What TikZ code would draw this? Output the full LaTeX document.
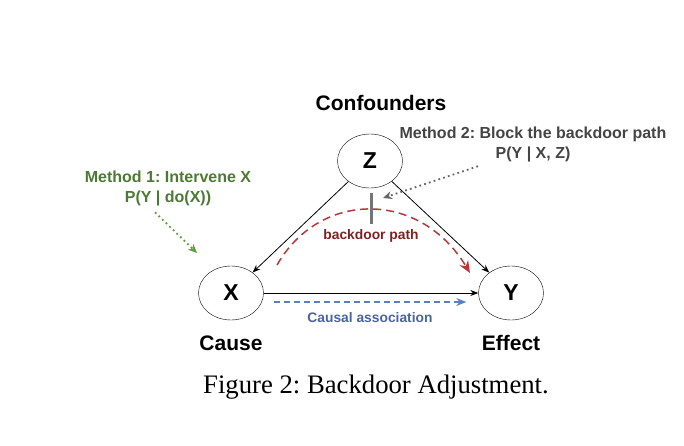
\documentclass[tikz,border=0pt]{standalone}
\usepackage{fontspec}
\setmainfont{Liberation Sans}
\newfontfamily\capfont{Liberation Serif}
\usetikzlibrary{arrows.meta,positioning,calc,shapes.geometric}
\definecolor{mgreen}{HTML}{4C7A34}
\definecolor{agreen}{HTML}{5E9E3E}
\definecolor{bdred}{HTML}{B23A3A}
\definecolor{bdtext}{HTML}{7B2323}
\definecolor{cablue}{HTML}{5C7FC0}
\definecolor{catext}{HTML}{4A64A0}
\definecolor{mgray}{HTML}{444444}
\definecolor{agray}{HTML}{666666}
\frenchspacing

\begin{document}
\begin{tikzpicture}[x=1pt,y=-1pt,>=Stealth,
    var/.style={draw,ellipse,minimum width=65pt,minimum height=54pt,inner sep=0pt,
      font=\fontsize{23}{23}\selectfont\bfseries},
    lbl/.style={inner sep=0pt,font=\fontsize{21}{21}\selectfont\bfseries},
    note/.style={align=center,inner sep=0pt,font=\fontsize{16}{20}\selectfont\bfseries},
    small/.style={inner sep=0pt,font=\fontsize{13.8}{14}\selectfont\bfseries},
    edge/.style={->,line width=0.8pt,>={Stealth[length=8pt,width=6pt]}},
    hint/.style={->,line width=1.8pt,dash pattern=on 1.8pt off 3.2pt,
      >={Stealth[length=9pt,width=8pt]}}]
    \useasboundingbox (0,0) rectangle (684,446);
    % variables
    \node[var] (z) at (370,161) {Z};
    \node[var] (x) at (231,293) {X};
    \node[var] (y) at (511,293) {Y};
    \node[lbl] (conf) at (381,103) {Confounders};
    \node[lbl,below=15pt of x] (cause) {Cause};
    \node[lbl,below=15pt of y] (effect) {Effect};
    % causal edges
    \draw[edge] (z) -- (x);
    \draw[edge] (z) -- (y);
    \draw[edge] (x) -- (y);
    % association paths
    \coordinate (bdstart) at (277,265);
    \coordinate (bdend) at (470,273);
    \draw[->,bdred,line width=1.5pt,dash pattern=on 8pt off 5pt,>={Stealth[length=12pt,width=10pt]}]
      (bdstart) .. controls (320,190) and (420,190) .. (bdend);
    \node[small,text=bdtext] (bdlbl) at (371,236) {backdoor path};
    \node[fill=agray!90,minimum width=3pt,minimum height=31pt,inner sep=0pt] (block) at (371,208.5) {};
    \draw[->,cablue,line width=1.3pt,dash pattern=on 6pt off 4pt,>={Stealth[length=10pt,width=8pt]}]
      ($(x.east)+(10,9)$) -- node[small,text=catext,below=10pt] (calbl) {Causal association} ($(y.west)+(-12,9)$);
    % adjustment methods
    \node[note,text=mgreen] (m1) at (168,188.5) {Method 1: Intervene X\\P(Y | do(X))};
    \node[note,text=mgray] (m2) at (533,144.5) {Method 2: Block the backdoor path\\P(Y | X, Z)};
    \coordinate (m1tip) at (197,253);
    \coordinate (m2tip) at (383,198);
    \draw[hint,agreen] ($(m1.south)+(-13,6)$) -- (m1tip);
    \draw[hint,agray] ($(m2.south)+(-55,4)$) -- (m2tip);
    % caption
    \node[font=\capfont\fontsize{26.7}{27}\selectfont] (cap) at (376,387) {Figure 2: Backdoor Adjustment.};
\end{tikzpicture}
\end{document}
